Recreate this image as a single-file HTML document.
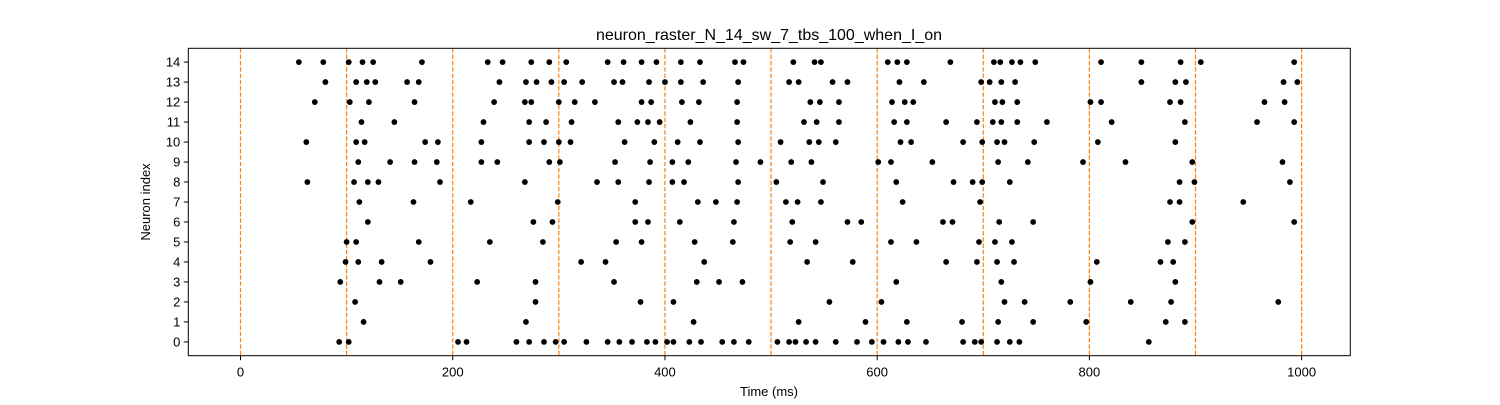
<!DOCTYPE html>
<html><head><meta charset="utf-8"><style>
html,body{margin:0;padding:0;background:#fff;}
svg text{font-family:"Liberation Sans","DejaVu Sans",sans-serif;fill:#000;}
</style></head><body>
<svg id="chart" width="1500" height="400" xmlns="http://www.w3.org/2000/svg">
<rect width="1500" height="400" fill="#fff"/>
<text x="769" y="40" font-size="16" text-anchor="middle">neuron_raster_N_14_sw_7_tbs_100_when_I_on</text>
<text x="769" y="396" font-size="13" text-anchor="middle">Time (ms)</text>
<text transform="translate(150,202) rotate(-90)" font-size="13" text-anchor="middle">Neuron index</text>
<g id="grid"></g><g id="marks"></g><g id="axes"></g>
</svg>
<script>
const neuronIds = [0,1,2,3,4,5,6,7,8,9,10,11,12,13,14];
const spikes0 = [93,102,205,213,260,272,286,297,305,326,346,357,369,383,391,402,408,423,434,454,465,479,506,517,523,533,542,561,581,595,606,620,629,646,681,692,698,713,725,734,856];
const spikes1 = [116,269,427,526,589,628,680,714,747,797,872,890];
const spikes2 = [108,278,377,408,555,604,720,739,782,839,877,978];
const spikes3 = [94,131,151,223,278,352,430,451,473,618,717,801,881];
const spikes4 = [99,111,133,179,321,344,437,534,577,665,694,713,729,807,867,879];
const spikes5 = [100,109,168,235,285,354,378,428,464,518,542,613,637,696,711,727,874,890];
const spikes6 = [120,276,294,372,384,414,465,520,572,585,662,671,715,747,897,993];
const spikes7 = [112,163,217,299,372,431,448,468,514,525,547,624,697,876,885,945];
const spikes8 = [63,107,120,130,188,268,336,356,385,407,418,469,505,549,618,672,690,699,725,885,899,989];
const spikes9 = [111,141,164,185,227,242,291,301,353,386,407,422,467,490,519,538,601,613,652,714,742,794,834,897,982];
const spikes10 = [62,109,117,174,186,227,272,286,300,311,362,390,412,433,469,509,536,545,561,622,632,681,699,713,720,748,808,881];
const spikes11 = [114,145,229,272,288,312,356,374,384,395,424,468,531,543,564,616,628,665,694,709,717,732,760,821,890,958,993];
const spikes12 = [70,103,121,164,239,268,274,300,315,334,378,387,416,432,468,537,546,564,614,626,634,711,718,732,801,811,876,886,965,984];
const spikes13 = [80,109,119,127,157,168,244,269,279,293,305,322,352,360,385,400,415,436,469,517,526,558,572,621,644,698,706,717,730,849,881,891,983,996];
const spikes14 = [55,78,102,115,125,171,233,247,274,291,307,346,361,378,392,415,433,466,474,521,541,547,610,619,628,669,710,716,727,735,749,811,849,886,905,993];
const spikeTrains = [spikes0,spikes1,spikes2,spikes3,spikes4,spikes5,spikes6,spikes7,spikes8,spikes9,spikes10,spikes11,spikes12,spikes13,spikes14];
const xTicks = [0,200,400,600,800,1000];
const xTickLabels = ["0","200","400","600","800","1000"];
const burstLines = [0,100,200,300,400,500,600,700,800,900,1000];

const L=188.3,R=1350.3,T=48.3,B=355.7;
const xDom=[-49.2,1045.9], yDom=[-0.69,14.69];
function xs(v){return L+(v-xDom[0])/(xDom[1]-xDom[0])*(R-L);}
function ys(v){return B-(v-yDom[0])/(yDom[1]-yDom[0])*(B-T);}
const NS="http://www.w3.org/2000/svg";
function mk(tag,attrs,parent){const e=document.createElementNS(NS,tag);for(const k in attrs)e.setAttribute(k,attrs[k]);parent.appendChild(e);return e;}
const grid=document.getElementById('grid'),marks=document.getElementById('marks'),axes=document.getElementById('axes');
burstLines.forEach(v=>{
  const l=mk('line',{x1:xs(v),x2:xs(v),y1:T,y2:B,stroke:'#ff7f0e','stroke-width':1.2,'stroke-dasharray':'4.4,1.9'},grid);
  
  
});
spikeTrains.forEach((arr,i)=>{
  arr.forEach(t=>{
    const c=mk('circle',{cx:xs(t),cy:ys(neuronIds[i]),r:2.9,fill:'#000'},marks);
    
    
  });
});
const frame=mk('rect',{x:L,y:T,width:R-L,height:B-T,fill:'none',stroke:'#000','stroke-width':1},axes);


xTicks.forEach((v,i)=>{
  const tk=mk('line',{x1:xs(v),x2:xs(v),y1:B,y2:B+4.5,stroke:'#000','stroke-width':1},axes);
  
  
  const tx=mk('text',{x:xs(v),y:B+21,'font-size':13,'text-anchor':'middle'},axes);
  tx.textContent=xTickLabels[i];
  
  
});
neuronIds.forEach(n=>{
  const tk=mk('line',{x1:L-4.5,x2:L,y1:ys(n),y2:ys(n),stroke:'#000','stroke-width':1},axes);
  
  
  const tx=mk('text',{x:L-8,y:ys(n)+4.6,'font-size':13,'text-anchor':'end'},axes);
  tx.textContent=String(n);
  
  
});
</script>
</body></html>
